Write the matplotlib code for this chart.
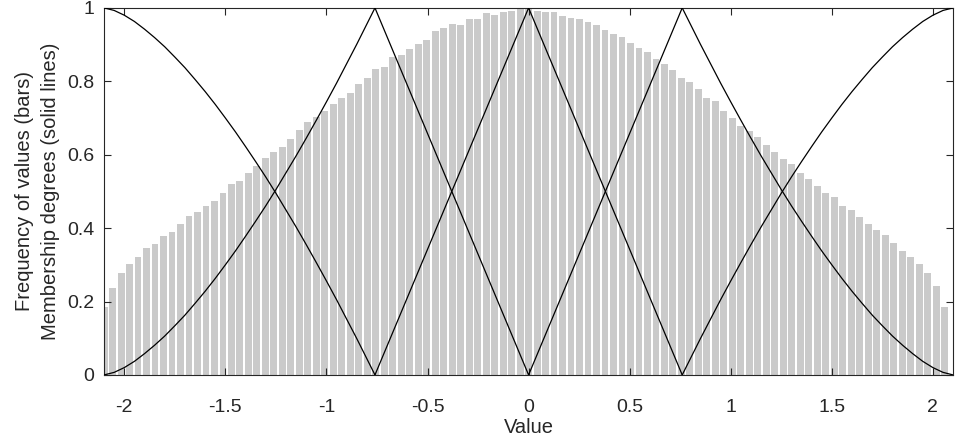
import matplotlib.pyplot as plt
import numpy as np

plt.rcParams['font.family'] = ['Liberation Sans', 'DejaVu Sans']

# histogram: bin centres start at -2.1, step 0.042
bin_start = -2.1
bin_step = 0.042
freq = [0.185, 0.238, 0.278, 0.302, 0.322, 0.346, 0.357, 0.379, 0.389, 0.411,
        0.432, 0.443, 0.461, 0.474, 0.497, 0.519, 0.529, 0.550, 0.568, 0.590,
        0.607, 0.622, 0.643, 0.668, 0.690, 0.702, 0.719, 0.738, 0.754, 0.769,
        0.793, 0.809, 0.834, 0.838, 0.866, 0.872, 0.889, 0.901, 0.913, 0.936,
        0.944, 0.956, 0.954, 0.971, 0.970, 0.985, 0.981, 0.990, 0.992, 0.998,
        1.000, 0.992, 0.989, 0.989, 0.979, 0.972, 0.969, 0.961, 0.953, 0.939,
        0.930, 0.921, 0.905, 0.890, 0.880, 0.861, 0.847, 0.831, 0.808, 0.799,
        0.778, 0.755, 0.745, 0.719, 0.701, 0.679, 0.665, 0.647, 0.626, 0.606,
        0.588, 0.574, 0.550, 0.535, 0.516, 0.497, 0.484, 0.461, 0.450, 0.431,
        0.411, 0.394, 0.380, 0.359, 0.339, 0.320, 0.302, 0.277, 0.243, 0.186]
centres = bin_start + bin_step * np.arange(len(freq))

# outer membership edges, left side; right side is the mirror
edge_x = [-2.1, -2.05, -2.0, -1.95, -1.9, -1.85, -1.8, -1.75, -1.7, -1.65, -1.6,
          -1.55, -1.5, -1.45, -1.4, -1.35, -1.3, -1.25, -1.2, -1.15, -1.1,
          -1.05, -1.0, -0.95, -0.9, -0.85, -0.8, -0.76]
edge_up = [0.0, 0.007, 0.020, 0.037, 0.058, 0.081, 0.106, 0.134, 0.163, 0.195, 0.228,
           0.263, 0.300, 0.338, 0.378, 0.419, 0.461, 0.505, 0.551, 0.597, 0.645,
           0.694, 0.744, 0.795, 0.848, 0.901, 0.956, 1.0]

# triangular memberships (peaks)
peaks = [-0.76, 0.0, 0.76]

fig = plt.figure(figsize=(9.55, 4.38), dpi=100)
ax = fig.add_axes([0.109, 0.144, 0.889, 0.838])

ax.bar(centres, freq, width=0.034, color='#cacaca', edgecolor='none', zorder=1)

ex = np.array(edge_x)
eu = np.array(edge_up)
lw = 0.9
ax.plot(ex, eu, color='black', lw=lw, zorder=3)
ax.plot(ex, 1 - eu, color='black', lw=lw, zorder=3)
ax.plot(-ex, eu, color='black', lw=lw, zorder=3)
ax.plot(-ex, 1 - eu, color='black', lw=lw, zorder=3)

ax.plot([peaks[0], peaks[1], peaks[2]], [1, 0, 1], color='black', lw=lw, zorder=3)
ax.plot([peaks[0], peaks[1], peaks[2]], [0, 1, 0], color='black', lw=lw, zorder=3)

ax.set_xlim(-2.1, 2.1)
ax.set_ylim(0, 1)
ax.set_xticks([-2, -1.5, -1, -0.5, 0, 0.5, 1, 1.5, 2])
ax.set_xticklabels(['-2', '-1.5', '-1', '-0.5', '0', '0.5', '1', '1.5', '2'])
ax.set_yticks([0, 0.2, 0.4, 0.6, 0.8, 1])
ax.set_yticklabels(['0', '0.2', '0.4', '0.6', '0.8', '1'])
ax.tick_params(direction='in', top=True, right=True, length=5, labelsize=14,
               colors='#262626')
ax.tick_params(axis='x', pad=17)
ax.tick_params(axis='y', pad=7)
for s in ax.spines.values():
    s.set_color('#262626')
    s.set_linewidth(0.8)

ax.set_xlabel('Value', fontsize=14.5, color='#262626', labelpad=2)
ax.set_ylabel('Frequency of values (bars)\nMembership degrees (solid lines)',
              fontsize=14.5, color='#262626', labelpad=5, linespacing=1.45)

fig.savefig('out.png', dpi=100)
